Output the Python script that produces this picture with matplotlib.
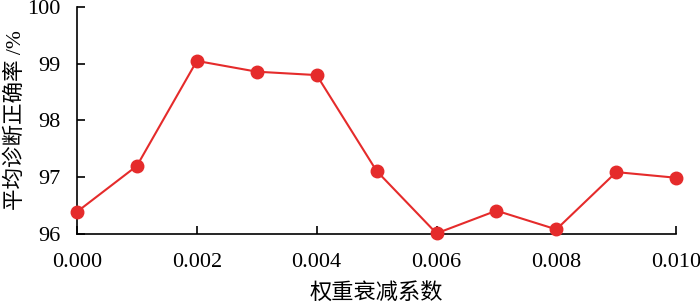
import matplotlib
matplotlib.use("Agg")
import matplotlib.pyplot as plt

# weight decay coefficient vs. mean diagnosis accuracy
decay = [0.000, 0.001, 0.002, 0.003, 0.004, 0.005, 0.006, 0.007, 0.008, 0.009, 0.010]
accuracy = [96.39, 97.20, 99.05, 98.86, 98.80, 97.11, 96.01, 96.41, 96.08, 97.09, 96.99]
x_ticks = [0.000, 0.002, 0.004, 0.006, 0.008, 0.010]
y_ticks = [96, 97, 98, 99, 100]

serif = "Liberation Serif"
mixed = ["Liberation Serif", "Noto Sans CJK SC", "DejaVu Sans"]

fig = plt.figure(figsize=(7, 3.05), dpi=100)
ax = fig.add_axes([0.11, 0.233, 0.856, 0.744])

ax.plot(decay, accuracy, color="#e52b2b", linewidth=1.5,
        marker="o", markersize=9, clip_on=False, zorder=3)

ax.set_xlim(0, 0.010)
ax.set_ylim(96, 100)
ax.set_xticks(x_ticks)
ax.set_xticklabels(["%.3f" % t for t in x_ticks], fontfamily=serif, fontsize=16)
ax.set_yticks(y_ticks)
ax.set_yticklabels([str(t) for t in y_ticks], fontfamily=serif, fontsize=16)

ax.spines["top"].set_visible(False)
ax.spines["right"].set_visible(False)
ax.spines["left"].set_linewidth(1.2)
ax.spines["bottom"].set_linewidth(1.2)
ax.tick_params(direction="in", length=6, width=1.2)
ax.tick_params(axis="x", pad=14)
ax.tick_params(axis="y", pad=12)

ax.set_xlabel("权重衰减系数", family=mixed, fontsize=16, labelpad=8)
ax.set_ylabel("平均诊断正确率 /%", family=mixed, fontsize=15.5, labelpad=1)

fig.savefig("out.png", dpi=100)
